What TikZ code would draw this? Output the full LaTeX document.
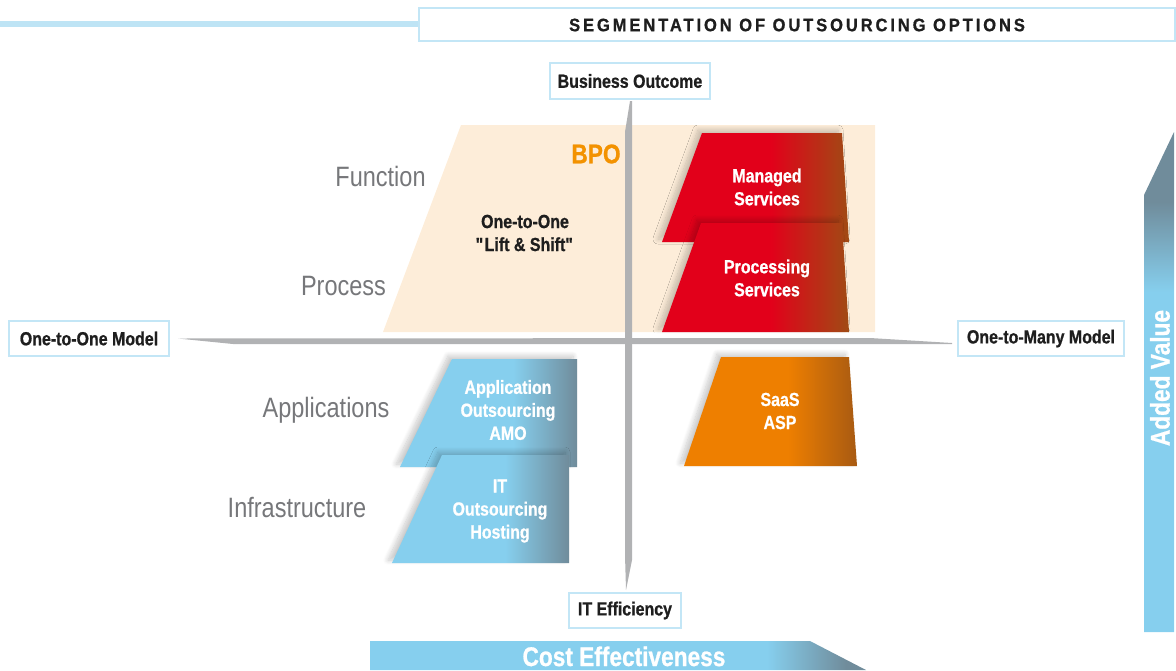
\documentclass[tikz,border=0pt]{standalone}
\usepackage{fontspec}
\setmainfont{Liberation Sans}[FakeStretch=0.84, BoldFeatures={FakeBold=0.8}]
\newfontfamily\titlefont{Liberation Sans}[FakeStretch=0.92,LetterSpace=16, BoldFeatures={FakeBold=0.8}]
\usetikzlibrary{shadows.blur}
\definecolor{peach}{RGB}{253,237,217}
\definecolor{brred}{RGB}{226,0,26}
\definecolor{brbrown}{RGB}{160,75,20}
\definecolor{orng}{RGB}{238,127,0}
\definecolor{orbrown}{RGB}{168,90,18}
\definecolor{skyb}{RGB}{134,207,238}
\definecolor{slate}{RGB}{112,140,155}
\definecolor{axisgray}{RGB}{177,178,180}
\definecolor{labgray}{RGB}{118,119,122}
\definecolor{boxline}{RGB}{195,230,246}
\definecolor{topline}{RGB}{190,228,245}
\definecolor{bpoorange}{RGB}{243,146,0}
\definecolor{txtdark}{RGB}{30,30,30}
\pgfdeclarehorizontalshading{redshade}{100bp}{color(0bp)=(brred); color(25bp)=(brred); color(54bp)=(brred); color(75bp)=(brbrown); color(100bp)=(brbrown)}
\pgfdeclarehorizontalshading{orangeshade}{100bp}{color(0bp)=(orng); color(25bp)=(orng); color(55bp)=(orng); color(75bp)=(orbrown); color(100bp)=(orbrown)}
\pgfdeclarehorizontalshading{blueshade}{100bp}{color(0bp)=(skyb); color(25bp)=(skyb); color(57bp)=(skyb); color(75bp)=(slate); color(100bp)=(slate)}
\pgfdeclarehorizontalshading{costshade}{100bp}{color(0bp)=(skyb); color(25bp)=(skyb); color(65bp)=(skyb); color(73bp)=(slate); color(100bp)=(slate)}
\pgfdeclareverticalshading{addedshade}{100bp}{color(0bp)=(skyb); color(59bp)=(skyb); color(68bp)=(slate); color(100bp)=(slate)}
\tikzset{
  axbox/.style={draw=boxline, line width=1.3pt, fill=white, inner sep=0pt, text=txtdark,
    font=\bfseries\fontsize{19}{21}\selectfont},
  wlabel/.style={text=white, align=center, font=\bfseries\fontsize{19}{23}\selectfont},
  glabel/.style={text=labgray, anchor=base, font=\fontsize{28}{30}\selectfont},
  softshadow/.style={blur shadow={shadow xshift=-4pt, shadow yshift=3pt, shadow blur radius=5pt, shadow blur steps=10, shadow opacity=22}},
  axisfill/.style={fill=axisgray, draw=none},
}
\begin{document}
\begin{tikzpicture}[x=1pt,y=-1pt]
\useasboundingbox (0,0) rectangle (1176,670);
% title
\draw[topline, line width=6pt] (0,24) -- (419,24);
\node[draw=boxline, line width=1.3pt, fill=white, minimum width=756pt, minimum height=33pt, inner sep=0pt] (titlebox) at (797,24.5) {};
\node[text=txtdark, font=\titlefont\bfseries\fontsize{18}{20}\selectfont] (title) at (797,25) {SEGMENTATION OF OUTSOURCING OPTIONS};
% BPO background
\path[fill=peach] (461,125) -- (875,125) -- (875,332) -- (383,332) -- cycle;
% axes
\path[axisfill] (630,101) -- (632,101) -- (632,560) -- (626,590) -- (625,555) -- (625,132) -- cycle;
\path[axisfill] (178,338.5) -- (870,338) -- (952,343) -- (952,344) -- (233,344) -- cycle;
% axis label boxes
\node[axbox, minimum width=160pt, minimum height=36pt] (bo) at (630,81) {Business Outcome};
\node[axbox, minimum width=160pt, minimum height=35pt] (oto) at (89,338.5) {One-to-One Model};
\node[axbox, minimum width=166pt, minimum height=35pt] (otm) at (1041,338.5) {One-to-Many Model};
\node[axbox, minimum width=112pt, minimum height=35pt] (ite) at (625,610.5) {IT Efficiency};
% BPO labels
\node[text=bpoorange, font=\bfseries\fontsize{27}{29}\selectfont] (bpo) at (596,154) {BPO};
\node[text=txtdark, align=center, font=\bfseries\fontsize{19}{23}\selectfont] (lift) at (525,233) {One-to-One\\\textquotedbl Lift \& Shift\textquotedbl};
% row labels
\node[glabel] (function) at (380.5,186) {Function};
\node[glabel] (process) at (343.5,295) {Process};
\node[glabel] (apps) at (326,417) {Applications};
\node[glabel] (infra) at (297,517) {Infrastructure};
% red boxes
\path[shading=redshade, softshadow] (702,133) -- (842,133) -- (849,242) -- (662,242) -- cycle;
\node[wlabel] (managed) at (767,187) {Managed\\Services};
\path[shading=redshade, softshadow] (701,223) -- (842,223) -- (849,332) -- (662,332) -- cycle;
\node[wlabel] (processing) at (767,278) {Processing\\Services};
% blue boxes
\path[shading=blueshade, softshadow] (452,359) -- (577,359) -- (577,467) -- (400,467) -- cycle;
\node[wlabel] (amo) at (508,410) {Application\\Outsourcing\\AMO};
\path[shading=blueshade, softshadow] (442,455) -- (569,455) -- (569,563) -- (392,563) -- cycle;
\node[wlabel] (ito) at (500,511) {IT\\Outsourcing\\Hosting};
% orange box
\path[shading=orangeshade, softshadow] (721,357) -- (849,357) -- (857,466) -- (684,466) -- cycle;
\node[wlabel] (saas) at (780,411) {SaaS\\ASP};
% cost effectiveness arrow
\path[shading=costshade] (370,641) -- (810,641) -- (866,670) -- (370,670) -- cycle;
\node[text=white, anchor=base, font=\bfseries\fontsize{27}{29}\selectfont] (cost) at (624,666) {Cost Effectiveness};
% added value arrow
\path[shading=addedshade] (1144,195) -- (1174,132) -- (1174,632) -- (1144,632) -- cycle;
\node[text=white, rotate=90, font=\bfseries\fontsize{27}{29}\selectfont] (added) at (1160,378) {Added Value};
\end{tikzpicture}
\end{document}
